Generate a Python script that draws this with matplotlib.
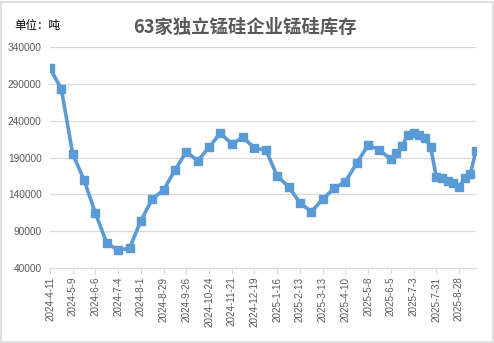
import matplotlib
matplotlib.use("Agg")
import matplotlib.pyplot as plt
import pandas as pd
from matplotlib.patches import Rectangle

# data (tons)
dates = ["2024-04-11", "2024-04-25", "2024-05-09", "2024-05-23", "2024-06-06",
         "2024-06-20", "2024-07-04", "2024-07-18", "2024-08-01", "2024-08-15",
         "2024-08-29", "2024-09-12", "2024-09-26", "2024-10-10", "2024-10-24",
         "2024-11-07", "2024-11-21", "2024-12-05", "2024-12-19", "2025-01-02",
         "2025-01-16", "2025-01-30", "2025-02-13", "2025-02-27", "2025-03-13",
         "2025-03-27", "2025-04-10", "2025-04-24", "2025-05-08", "2025-05-22",
         "2025-06-05", "2025-06-12", "2025-06-19", "2025-06-26", "2025-07-03",
         "2025-07-10", "2025-07-17", "2025-07-24", "2025-07-31", "2025-08-07",
         "2025-08-14", "2025-08-21", "2025-08-28", "2025-09-04", "2025-09-11",
         "2025-09-18"]
stock = [311000, 282700, 194700, 159500, 114400,
         73800, 64700, 67000, 104400, 133800,
         146000, 173000, 197800, 185400, 204000,
         223000, 208300, 217300, 202700, 200100,
         165000, 150400, 128800, 116600, 133400,
         148300, 157200, 182100, 206900, 200100,
         187500, 195600, 205600, 220400, 222700,
         220400, 216000, 204600, 164000, 161800,
         158600, 155900, 149600, 161800, 167600,
         199200]

yticks = [40000, 90000, 140000, 190000, 240000, 290000, 340000]
title = "63家独立锰硅企业锰硅库存"
unit = "单位：吨"

plt.rcParams['font.family'] = ['Noto Sans CJK SC', 'DejaVu Sans']

x = pd.to_datetime(dates)
xticks = pd.date_range(x[0], x[-1], freq="28D")
xlabels = [f"{d.year}-{d.month}-{d.day}" for d in xticks]

fig = plt.figure(figsize=(4.94, 3.43), dpi=100)
ax = fig.add_axes([50 / 494, 1 - 268.3 / 343, 426 / 494, 221.6 / 343])

ax.plot(x, stock, color="#5B9BD5", lw=2.6, marker="s", ms=5.5,
        markerfacecolor="#5B9BD5", markeredgecolor="#5B9BD5", zorder=3)

ax.set_ylim(40000, 340000)
ax.set_yticks(yticks)
ax.set_yticklabels([str(v) for v in yticks], fontsize=7.3, color="#595959",
                   family="Liberation Sans")
ax.set_xlim(x[0], x[-1])
ax.set_xticks(xticks)
ax.set_xticklabels(xlabels, rotation=90, fontsize=7.1, color="#595959",
                   family="Liberation Sans")

ax.grid(axis="y", color="#D9D9D9", lw=0.9)
ax.set_axisbelow(True)
for s in ["top", "right", "left"]:
    ax.spines[s].set_visible(False)
ax.spines["bottom"].set_color("#D9D9D9")
ax.tick_params(axis="y", length=0, pad=6)
ax.tick_params(axis="x", length=4, color="#D9D9D9", pad=2)

fig.text(245 / 494, 1 - 27 / 343, title, ha="center", va="center",
         fontsize=13.2, fontweight="bold", color="#595959")
fig.text(14 / 494, 1 - 25 / 343, unit, ha="left", va="center",
         fontsize=8.3, color="black")

fig.patches.append(Rectangle((0.002, 0.002), 0.996, 0.993, transform=fig.transFigure,
                             fill=False, edgecolor="#D9D9D9", lw=1.2))

fig.savefig("out.png", dpi=100)
